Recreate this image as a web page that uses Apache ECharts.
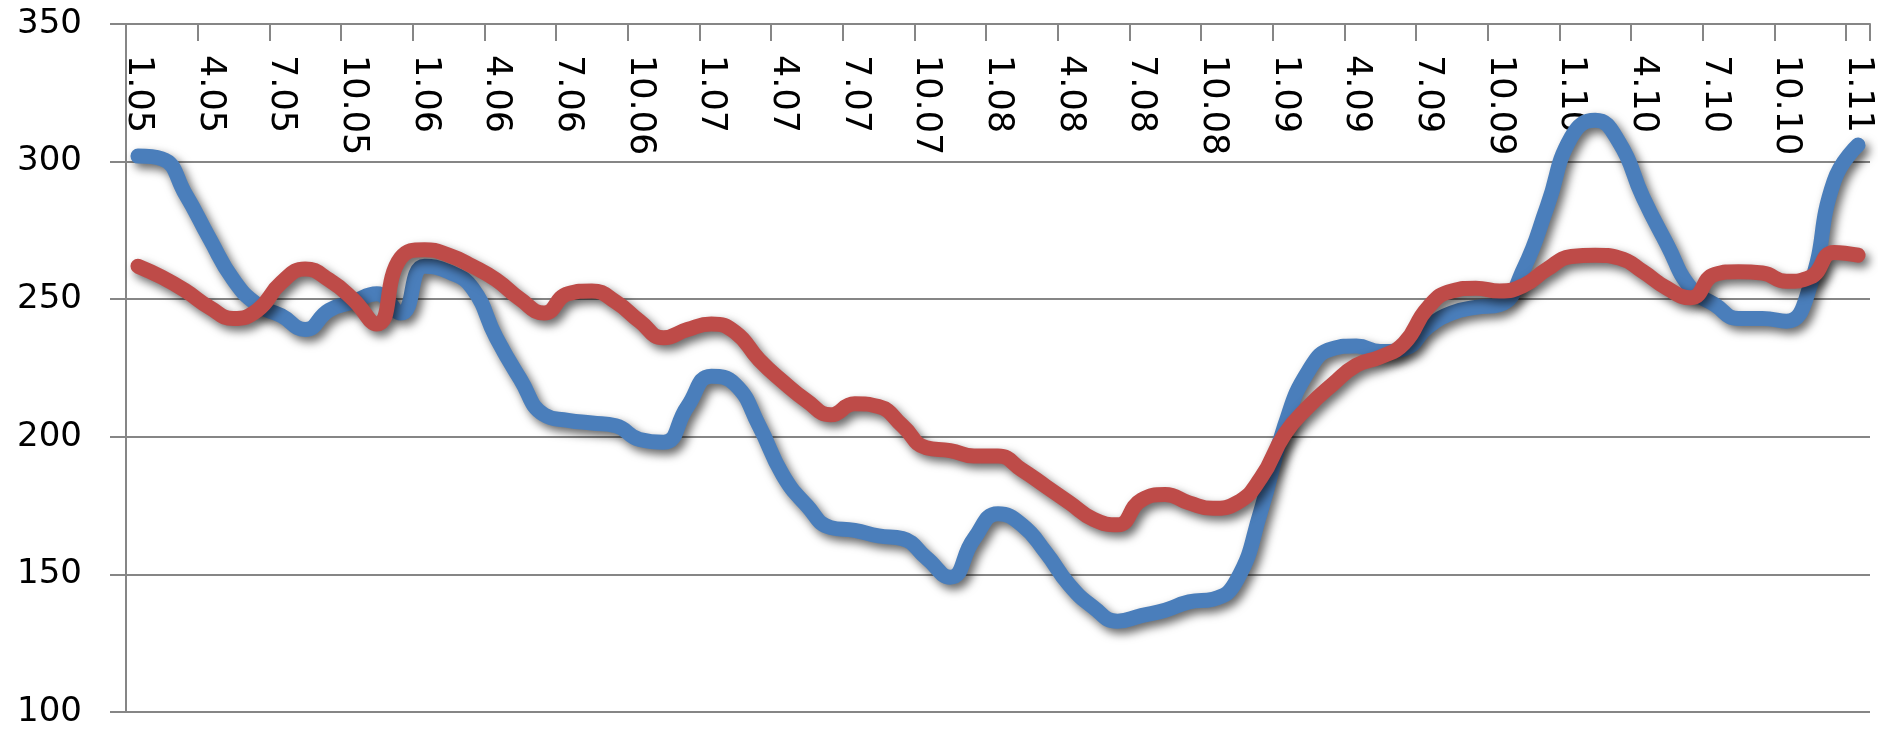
<!DOCTYPE html>
<html>
<head>
<meta charset="utf-8">
<script src="https://cdn.jsdelivr.net/npm/echarts@6/dist/echarts.min.js"></script>
<style>
html,body{margin:0;padding:0;background:#fff;}
#chart{width:1890px;height:730px;}
</style>
</head>
<body>
<div id="chart"></div>
<script>
var categories = [
  "1.05","2.05","3.05","4.05","5.05","6.05","7.05","8.05","9.05","10.05","11.05","12.05",
  "1.06","2.06","3.06","4.06","5.06","6.06","7.06","8.06","9.06","10.06","11.06","12.06",
  "1.07","2.07","3.07","4.07","5.07","6.07","7.07","8.07","9.07","10.07","11.07","12.07",
  "1.08","2.08","3.08","4.08","5.08","6.08","7.08","8.08","9.08","10.08","11.08","12.08",
  "1.09","2.09","3.09","4.09","5.09","6.09","7.09","8.09","9.09","10.09","11.09","12.09",
  "1.10","2.10","3.10","4.10","5.10","6.10","7.10","8.10","9.10","10.10","11.10","12.10",
  "1.11"
];
var blueSeries = [
  302,301,288,272,257,248,244,239,246,249,252,245,
  262,260,254,236,221,208,206,205,204,199,198,211,
  222,219,204,186,175,167,166,164,163,156,149,163,
  172,168,158,146,138,133,135,137,140,141,148,173,
  204,224,232,233,231,232,240,245,247,248,261,284,
  309,315,307,287,270,254,248,243,243,242,255,293,
  306
];
var redSeries = [
  262,258,253,247,243,246,256,261,257,250,241,265,
  268,266,262,257,250,245,252,253,249,242,236,239,
  241,238,228,220,213,208,212,211,204,196,195,193,
  193,188,182,176,170,168,177,179,176,174,176,185,
  201,211,219,226,229,234,247,253,254,253,255,261,
  265.5,266,265,260,254,250.5,259,260,259.5,256.5,258,267,
  266
];
var yTicks = {min: 100, max: 350, interval: 50};

var chart = echarts.init(document.getElementById('chart'), null, {renderer: 'canvas'});
var gray = '#868686';
var font = 'DejaVu Sans';
function lineSeries(data, color) {
  return {
    type: 'line',
    data: data,
    smooth: 0.5,
    symbol: 'none',
    lineStyle: {
      color: color,
      width: 15,
      cap: 'round',
      join: 'round',
      shadowColor: 'rgba(0,0,0,0.6)',
      shadowBlur: 10,
      shadowOffsetX: 4,
      shadowOffsetY: 5
    },
    itemStyle: {color: color},
    animation: false
  };
}
chart.setOption({
  animation: false,
  backgroundColor: '#ffffff',
  grid: {left: 126, right: 20, top: 24, bottom: 18, containLabel: false},
  xAxis: {
    type: 'category',
    position: 'top',
    data: categories,
    boundaryGap: true,
    axisLine: {show: true, lineStyle: {color: gray, width: 2}},
    axisTick: {show: true, inside: true, length: 17, interval: 2, lineStyle: {color: gray, width: 2}},
    axisLabel: {
      show: true, inside: true, rotate: 90, interval: 2, margin: 31,
      color: '#000', fontFamily: font, fontSize: 35
    },
    splitLine: {show: false}
  },
  yAxis: {
    type: 'value',
    min: yTicks.min, max: yTicks.max, interval: yTicks.interval,
    axisLine: {show: true, lineStyle: {color: gray, width: 2}},
    axisTick: {show: true, inside: false, length: 16, lineStyle: {color: gray, width: 2}},
    axisLabel: {color: '#000', fontFamily: font, fontSize: 34, margin: 44},
    splitLine: {show: true, lineStyle: {color: gray, width: 2}}
  },
  series: [lineSeries(blueSeries, '#4A7EBB'), lineSeries(redSeries, '#BE4B48')]
});
</script>
</body>
</html>
